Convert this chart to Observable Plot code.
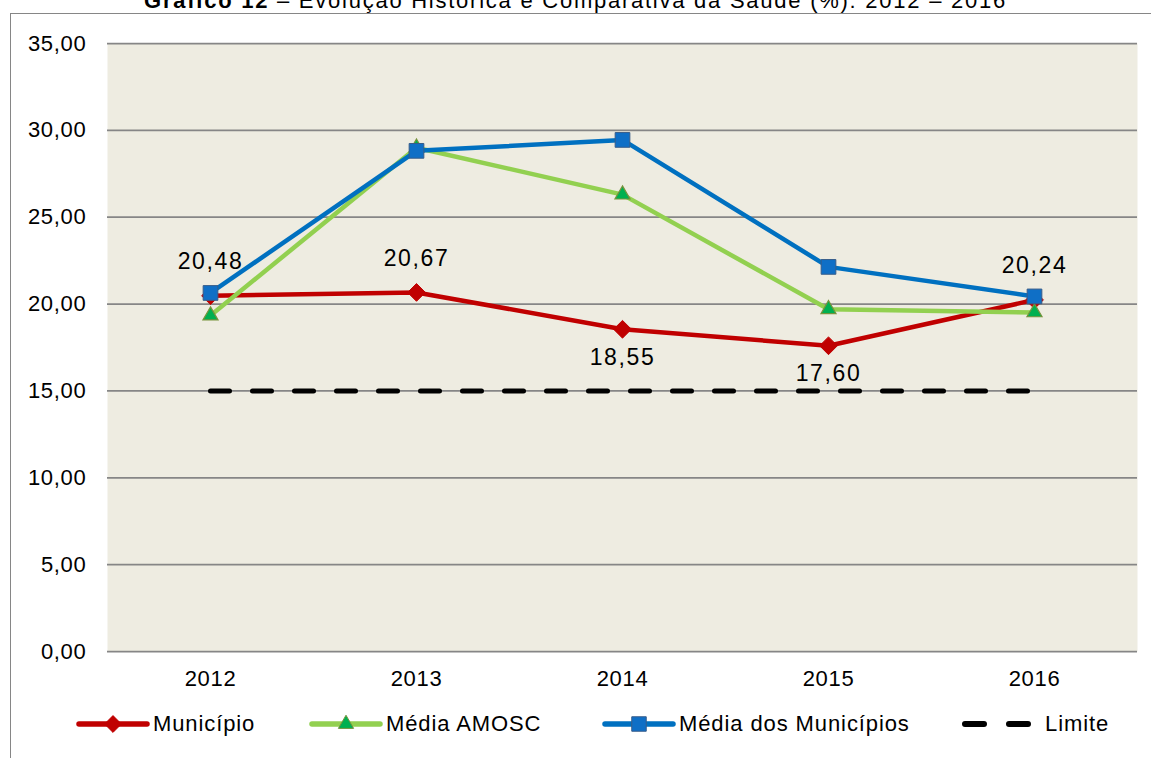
<!DOCTYPE html>
<html>
<head>
<meta charset="utf-8">
<script src="https://cdn.jsdelivr.net/npm/d3@7"></script>
<script src="https://cdn.jsdelivr.net/npm/@observablehq/plot@0.6"></script>
<style>
  html, body { margin: 0; padding: 0; background: #fff; overflow: hidden; }
  #wrap { position: relative; width: 1151px; height: 758px; overflow: hidden; font-family: "Liberation Sans", Arial, sans-serif; color: #000; }
  #title { position: absolute; left: 0; width: 1151px; top: -10px; line-height: 22px; font-size: 22px; letter-spacing: 1.75px; text-align: center; white-space: nowrap; }
  #frame { position: absolute; left: 10px; top: 13px; width: 1300px; height: 900px; border-left: 1.5px solid #868686; border-top: 1.5px solid #868686; }
  #chart { position: absolute; left: 0; top: 0; }
  .leg { position: absolute; top: 711px; height: 26px; display: flex; align-items: center; font-size: 22px; letter-spacing: 0.9px; white-space: nowrap; }
  .leg svg { display: block; }
</style>
</head>
<body>
<div id="wrap">
  <div id="title"><b>Gráfico 12</b> – Evolução Histórica e Comparativa da Saúde (%): 2012 – 2016</div>
  <div id="frame"></div>
  <div id="chart"></div>
  <div id="legend"></div>
</div>
<script>
// ---- data ----
const years = ["2012", "2013", "2014", "2015", "2016"];
const municipio = [20.48, 20.67, 18.55, 17.60, 20.24];
const mediaAmosc = [19.34, 29.0, 26.3, 19.7, 19.52];
const mediaMunicipios = [20.64, 28.82, 29.45, 22.14, 20.44];
const limite = [15, 15, 15, 15, 15];
const yTicks = [0, 5, 10, 15, 20, 25, 30, 35];
const seriesNames = ["Município", "Média AMOSC", "Média dos Municípios", "Limite"];

const fmt = v => d3.format(".2f")(v).replace(".", ",");
const rows = vals => years.map((year, i) => ({year, value: vals[i]}));

const dMun = rows(municipio);
const dAmosc = rows(mediaAmosc);
const dMed = rows(mediaMunicipios);
const dLim = rows(limite);

const RED = "#C00000", GREEN = "#92D050", BLUE = "#0070C0";

const chart = Plot.plot({
  width: 1151,
  height: 700,
  marginLeft: 107,
  marginRight: 14,
  marginTop: 43,
  marginBottom: 49,
  style: {fontFamily: "'Liberation Sans', Arial, sans-serif", fontSize: "22px", color: "#000", background: "transparent", overflow: "visible"},
  x: {type: "point", domain: years, padding: 0.5, label: null},
  y: {domain: [0, 35], label: null},
  marks: [
    Plot.frame({fill: "#EEECE1", stroke: "none"}),
    Plot.ruleY(yTicks, {stroke: "#868686", strokeWidth: 1.75}),
    Plot.axisY({ticks: yTicks, tickFormat: fmt, tickSize: 0, tickPadding: 21, label: null}),
    Plot.axisX({tickSize: 0, tickPadding: 19, label: null}),
    // Município
    Plot.line(dMun, {x: "year", y: "value", stroke: RED, strokeWidth: 4.5}),
    Plot.dot(dMun, {x: "year", y: "value", symbol: "diamond2", r: 8, fill: RED, stroke: RED, strokeWidth: 1}),
    // Média AMOSC
    Plot.line(dAmosc, {x: "year", y: "value", stroke: GREEN, strokeWidth: 4.5}),
    Plot.dot(dAmosc, {x: "year", y: "value", symbol: "triangle", r: 5.6, fill: "#00B050", stroke: "#77933C", strokeWidth: 1.2}),
    // Média dos Municípios
    Plot.line(dMed, {x: "year", y: "value", stroke: BLUE, strokeWidth: 4.5}),
    Plot.dot(dMed, {x: "year", y: "value", symbol: "square", r: 8.3, fill: "#0F6FC6", stroke: "#385D8A", strokeWidth: 1}),
    // Limite
    Plot.line(dLim, {x: "year", y: "value", stroke: "#000", strokeWidth: 5, strokeDasharray: "19 23", strokeLinecap: "round"}),
    // Data labels (Município)
    Plot.text(dMun, {filter: d => d.value > 19.5, x: "year", y: "value", text: d => fmt(d.value), dy: -34, fontSize: 23, fill: "#000"}),
    Plot.text(dMun, {filter: d => d.value <= 19.5, x: "year", y: "value", text: d => fmt(d.value), dy: 28, fontSize: 23, fill: "#000"})
  ]
});
chart.querySelectorAll("text").forEach(t => t.style.letterSpacing = t.closest("g[aria-label='text']") ? "1.6px" : "0.7px");
document.getElementById("chart").appendChild(chart);

// ---- legend (HTML) ----
const legend = document.getElementById("legend");
const legendItems = [
  {name: seriesNames[0], left: 75, color: RED, symbol: d3.symbolDiamond2, size: 180, fill: RED, stroke: RED},
  {name: seriesNames[1], left: 308, color: GREEN, symbol: d3.symbolTriangle, size: 100, fill: "#00B050", stroke: "#77933C"},
  {name: seriesNames[2], left: 601, color: BLUE, symbol: d3.symbolSquare, size: 210, fill: "#0F6FC6", stroke: "#385D8A"},
  {name: seriesNames[3], left: 961, color: "#000", dashed: true}
];
legendItems.forEach(it => {
  const div = document.createElement("div");
  div.className = "leg";
  div.style.left = it.left + "px";
  const w = 76, h = 26;
  const svg = d3.create("svg").attr("width", w).attr("height", h);
  if (it.dashed) {
    svg.append("line").attr("x1", 4).attr("x2", w - 4).attr("y1", h / 2).attr("y2", h / 2)
      .attr("stroke", "#000").attr("stroke-width", 6).attr("stroke-linecap", "round")
      .attr("stroke-dasharray", "19 25");
  } else {
    svg.append("line").attr("x1", 4).attr("x2", w - 4).attr("y1", h / 2).attr("y2", h / 2)
      .attr("stroke", it.color).attr("stroke-width", 5.5).attr("stroke-linecap", "round");
    svg.append("path").attr("transform", `translate(${w / 2},${h / 2})`)
      .attr("d", d3.symbol(it.symbol, it.size)()).attr("fill", it.fill).attr("stroke", it.stroke).attr("stroke-width", 1);
  }
  div.appendChild(svg.node());
  const span = document.createElement("span");
  span.textContent = it.name;
  span.style.marginLeft = (it.dashed ? 8 : 2) + "px";
  div.appendChild(span);
  legend.appendChild(div);
});
</script>
</body>
</html>
